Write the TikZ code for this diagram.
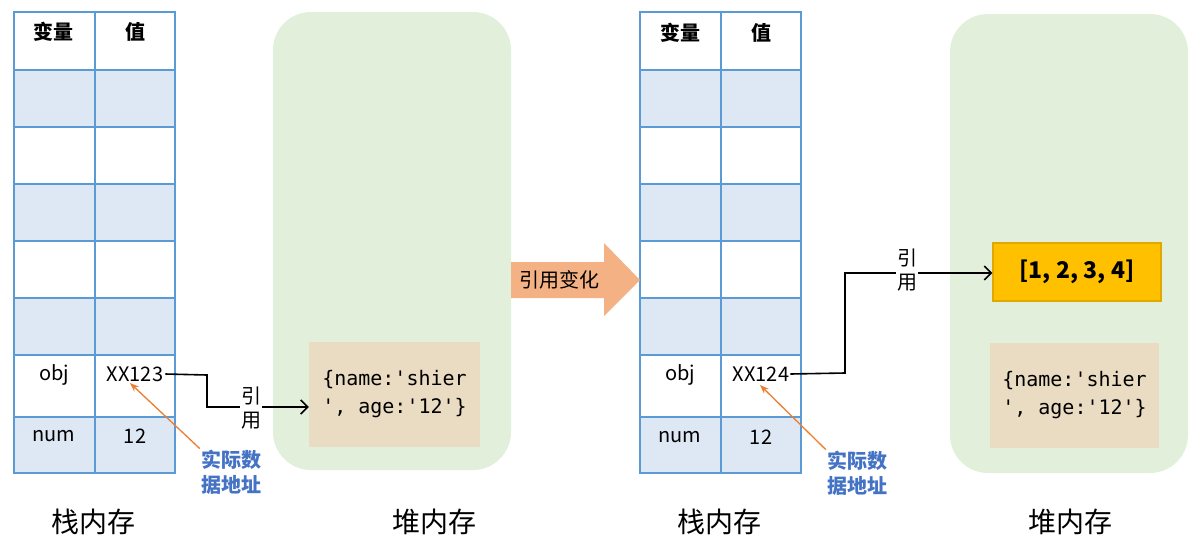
\documentclass[tikz,border=0pt]{standalone}
\usepackage{fontspec}
\setmainfont{Noto Sans CJK SC}
\newfontfamily\codefont{DejaVu Sans Mono}
\usetikzlibrary{arrows.meta}
\definecolor{cellb}{HTML}{DEE8F5}
\definecolor{cellline}{HTML}{5B9BD5}
\definecolor{heap}{HTML}{E2EFDA}
\definecolor{beige}{HTML}{EADCC2}
\definecolor{gold}{HTML}{FFC000}
\definecolor{goldline}{HTML}{E0A800}
\definecolor{peach}{HTML}{F4B183}
\definecolor{orangeA}{HTML}{ED7D31}
\definecolor{blueT}{HTML}{4472C4}
\tikzset{
  cell/.style={draw=cellline,line width=1.6pt},
  ct/.style={font=\fontsize{20}{20}\selectfont},
  ht/.style={font=\fontsize{20}{20}\selectfont\bfseries},
  code/.style={font=\fontsize{20}{28}\selectfont\codefont,align=left},
  captxt/.style={font=\fontsize{28}{28}\selectfont},
  blab/.style={font=\fontsize{20}{25}\selectfont\bfseries,text=blueT,align=center,inner sep=1pt},
  ref/.style={draw=black,line width=1.6pt},
  oarr/.style={draw=orangeA,line width=1.3pt,-{Stealth[length=9pt]}}
}
\begin{document}
\begin{tikzpicture}[x=1pt,y=-1pt]
\useasboundingbox (0,0) rectangle (1197,547);
% heaps
\fill[heap,rounded corners=38pt] (273,12) rectangle (511,470);
\fill[heap,rounded corners=38pt] (950,14) rectangle (1188,473);
% tables
\foreach \x/\m/\r in {14/95/175,640/721/801}{
  \foreach \a/\b/\f in {12/70/white,70/127/cellb,127/184/white,184/241/cellb,241/298/white,298/355/cellb,355/417/white,417/473/cellb}{
    \filldraw[cell,fill=\f] (\x,\a) rectangle (\m,\b);
    \filldraw[cell,fill=\f] (\m,\a) rectangle (\r,\b);
  }
}
\node[ht] (h1) at (54,32) {变量};
\node[ht] (h2) at (135,32) {值};
\node[ht] (h3) at (680,33) {变量};
\node[ht] (h4) at (761,33) {值};
\node[ct] (o1) at (54,375) {obj};
\node[ct,inner xsep=2pt] (v1) at (135,374) {XX123};
\node[ct] (n1) at (54,436) {num};
\node[ct] (m1) at (135,436) {12};
\node[ct] (o2) at (680,375) {obj};
\node[ct,inner xsep=1pt] (v2) at (761,374) {XX124};
\node[ct] (n2) at (680,437) {num};
\node[ct] (m2) at (761,437) {12};
% heap contents
\node[fill=beige,minimum width=171pt,minimum height=105pt,code] (obj1) at (394.5,394.5) {\{name:'shier\\', age:'12'\}};
\node[fill=beige,minimum width=169pt,minimum height=105pt,code] (obj2) at (1074.5,395.5) {\{name:'shier\\', age:'12'\}};
\node[fill=gold,draw=goldline,line width=1.2pt,minimum width=168pt,minimum height=58pt,font=\fontsize{23}{23}\selectfont\bfseries] (arr) at (1077,272) {[1, 2, 3, 4]};
% transition arrow
\fill[peach] (511,262) -- (604,262) -- (604,243) -- (640,280) -- (604,316) -- (604,298) -- (511,298) -- cycle;
\node[font=\fontsize{20}{20}\selectfont] (chg) at (559,280) {引用变化};
% references
\node[font=\fontsize{20}{24}\selectfont,align=center,inner sep=1pt] (r1) at (251,408) {引\\用};
\node[font=\fontsize{20}{24}\selectfont,align=center,inner sep=1pt] (r2) at (907,270) {引\\用};
\coordinate (a1) at (207,375);
\coordinate (a2) at (207,407);
\draw[ref] (v1.east) -- (a1) -- (a2) -- (a2 -| r1.west);
\draw[ref,-{Straight Barb[length=7pt]}] (r1.east |- a2) -- (obj1.west |- a2);
\coordinate (b1) at (845,373);
\coordinate (b2) at (845,273);
\draw[ref] (v2.east) -- (b1) -- (b2) -- (b2 -| r2.west);
\draw[ref,-{Straight Barb[length=7pt]}] (r2.east |- b2) -- (arr.west |- b2);
% address labels
\node[blab] (l1) at (231,472) {实际数\\据地址};
\node[blab] (l2) at (857,473) {实际数\\据地址};
\draw[oarr] (l1.north west) -- (130,383);
\draw[oarr] (l2.north west) -- (760,385);
% captions
\node[captxt] (c1) at (93,522) {栈内存};
\node[captxt] (c2) at (434,522) {堆内存};
\node[captxt] (c3) at (719,522) {栈内存};
\node[captxt] (c4) at (1070,522) {堆内存};
\end{tikzpicture}
\end{document}
